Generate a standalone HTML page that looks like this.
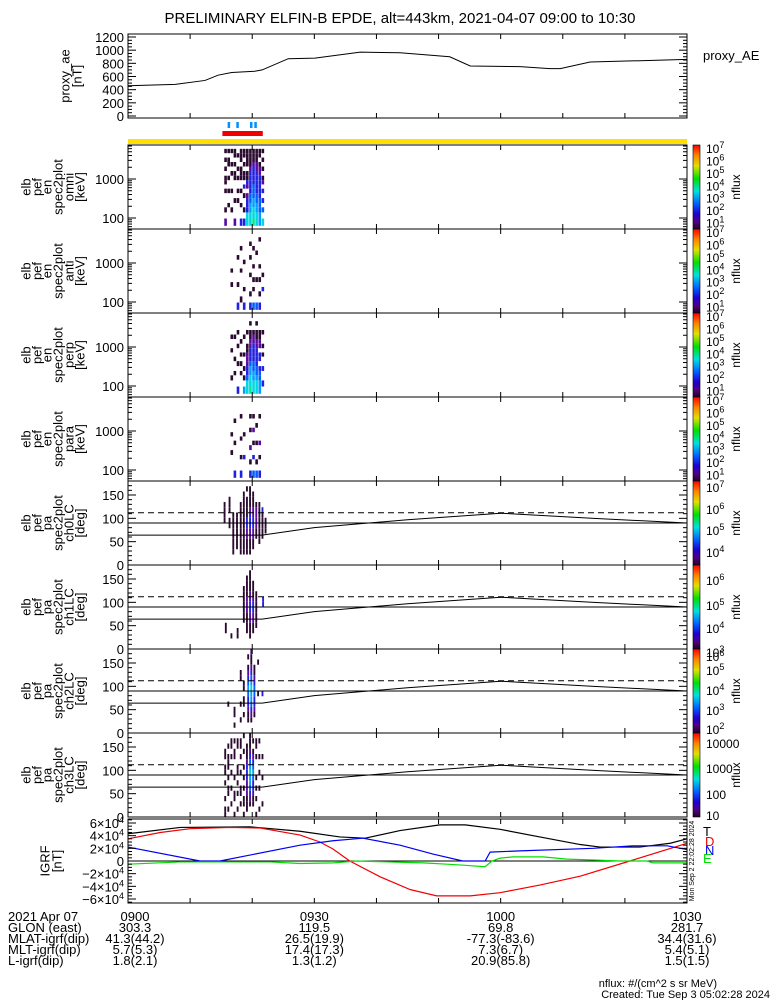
<!DOCTYPE html>
<html><head><meta charset="utf-8"><style>
html,body{margin:0;padding:0;background:#fff}
svg{display:block;font-family:"Liberation Sans",sans-serif}
</style></head><body>
<svg id="fig" width="775" height="1000" viewBox="0 0 775 1000" xmlns="http://www.w3.org/2000/svg">
<rect width="775" height="1000" fill="#fff"/>
<text x="400" y="23" font-size="15" text-anchor="middle">PRELIMINARY ELFIN-B EPDE, alt=443km, 2021-04-07 09:00 to 10:30</text>
</svg>
<script>
// ---------- DATA ----------
const aeTimes=[0,7.6,12.4,14.5,16.7,20.4,21.6,25.8,30.1,37.4,43.8,51.8,55.1,63.1,67.9,69.6,74.4,82.4,90];
const aeValues=[460,480,540,620,660,680,700,870,880,970,960,900,760,750,720,720,820,840,860];
const aeTicks=[0,200,400,600,800,1000,1200];

const blackT=[0,8.4,19.6,27.7,34.1,38.2,43.8,50.2,54.3,59.9,66.3,72.8,76.0,82.4,87.3,90];
const blackV=[43000,53000,54000,47000,38000,36000,48000,57000,57000,50000,38000,26000,22000,22000,28000,35000];
const redT=[0,5.2,10.0,16.4,21.3,27.7,30.9,33.0,35.7,40.6,45.4,49.7,55.1,59.9,66.3,72.8,80.8,90];
const redV=[35000,45000,51000,53000,52000,41000,30000,19000,0,-25000,-45000,-55000,-55000,-50000,-38000,-24000,0,28000];
const blueT=[0,11.6,14.8,27.7,33.0,37.8,43.8,49.1,53.9,57.5,58.3,63.1,74.9,81.3,86.8,90];
const blueV=[22000,0,0,25000,32000,36000,25000,11000,0,0,14000,16000,20000,24000,24000,18000];
const greenT=[0,8.4,22.9,27.7,33.0,36.9,43.8,47.5,51.4,54.6,57.5,58.6,59.9,62.0,66.8,70.7,75.5,79.2,83.6,84.5,90];
const greenV=[-5000,-1500,-1500,-4000,-3000,0,-2000,-3000,-5000,-7000,-9000,0,4500,6500,6500,3000,1500,0,0,-3000,-3000];
const igrfTicks=[-60000,-40000,-20000,0,20000,40000,60000];

const lcTimes=[0,21.6,30,45,60,75,90];
const lcValues=[64,64,80,97,111,100,90];
const paDashed=112, paSolid=90;

const energyEdges=[63,97,139,188,243,324,434,566,725,932,1215,1601,2090,2729,3547,4592,5934];
const omniTimes=[15.5,16.0,16.5,17.0,17.5,18.0,18.5,19.0,19.5,20.0,20.5,21.0,21.5];
const omniCells=["2.1...1.11.1.1.1","...1..1..1..11.1","..1...1...1.1..1","2...1....11.1.11","....1.1..1.1..1.","3..1..1..111.111","3.1..1.3.11.1.11","663332.2311.1111","6655443333321111","7665544433332111","6655443333322111","5544433333221.11","6.4.3.3.21.1.1.1"];
const antiTimes=[16.5,17.5,18.0,18.5,19.5,20.0,20.5,21.0,21.5];
const antiCells=["....1..1........","3...1.....1.....",".1.....1....1...","3..1.....1......","3.1...1...1..1..","4..1.1..1...1...","4....1.....1....","3.1..1..1.....1.","...3..1........."];
const perpTimes=[16.5,17.0,17.5,18.0,18.5,19.0,19.5,20.0,20.5,21.0,21.5];
const perpCells=["..1.....1..1....","...1..1....1....","3....1...1..1...","...1.1.1..1.....","5.1.1..1...1....","6643322211..1...","7665543332211.1.","6655443333221...","6654433332211.1.","55443.33.2211...",".3..3..1.1..1..."];
const paraTimes=[16.5,17.0,18.0,18.5,19.5,20.0,20.5,21.0];
const paraCells=["....1...1.......","3.....1....1....","3..1...1....1...","...3....1.......","3.1..2...1..1...","4..3..1..2..1...","4.1...1...1.....","3..1..2.....1..."];

const ch0Times=[15.4,16.2,16.8,17.4,18.0,18.5,19.0,19.5,20.0,20.5,21.0,21.5,22.0];
const ch0Cells=["........1111....",".......11.111...","..11111111......","...1111111......","..1111111111....","..111111111111..","..11122331111.1.","..1112233321111.","...11223322111..",".....1122221....","....11111111....",".....111113.....","......111......."];
const ch1Times=[15.6,16.5,17.5,18.5,19.0,19.5,20.0,20.5,21.6];
const ch1Cells=["...11...........","..1.............","..11............",".....1111111....","...11112221111..","..1112233221111.","...1122332111...","....1111111.....","........33......"];
const ch2Times=[16.0,17.0,18.0,18.5,19.2,19.7,20.2,20.8,21.5];
const ch2Cells=[".....1..........",".1.11...........","..1..1....11....","...1.11.11......","..11233454321.1.","..12345565432112","...1233443211...",".......1.....1..",".......3........"];
const ch3Times=[15.5,16.0,16.5,17.0,17.5,18.0,18.5,19.0,19.5,20.0,20.5,21.0,21.5];
const ch3Cells=["11.1..1.11.11...",".1..11.1.111.1..","..1..1..1..1.11.","1..11..1...11.1.",".1..1.1.11...11.","..1.11..1..1.11.","1.11.1.1.1..1..1",".1112223332111..","..12345565432111","..11233454321.1.","1..1.1.1...1.11.",".1...1..1..1..1.","..1....1...1...."];

const flagTimes=[16.2,17.6,19.8,20.5];
const flagStart=15.2, flagEnd=21.7;

// ---------- HELPERS ----------
const NS="http://www.w3.org/2000/svg";
const svg=document.getElementById('fig');
const X0=128,X1=687;
function xT(t){return X0+t*(X1-X0)/90;}
function mk(tag,attrs,parent){const e=document.createElementNS(NS,tag);for(const k in attrs)e.setAttribute(k,attrs[k]);(parent||svg).appendChild(e);return e;}
const pal={'1':'#2b0a2f','2':'#5a0aa0','3':'#2020e0','4':'#0060ff','5':'#00a0ff','6':'#00d8e0','7':'#00e890'};

function frame(top,h,name){
  const r=mk('rect',{x:X0,y:top,width:X1-X0,height:h,fill:'none',stroke:'#000','stroke-width':1});
  
  
  for(let t=10;t<90;t+=10){
    mk('line',{x1:xT(t),x2:xT(t),y1:top+h,y2:top+h-5,stroke:'#000'});
    mk('line',{x1:xT(t),x2:xT(t),y1:top,y2:top+5,stroke:'#000'});
  }
}
function ytick(y,len){
  mk('line',{x1:X0,x2:X0+len,y1:y,y2:y,stroke:'#000'});
  mk('line',{x1:X1,x2:X1-len,y1:y,y2:y,stroke:'#000'});
}
function ylab(y,txt,name){
  const t=mk('text',{x:124,y:y+5,'font-size':13,'text-anchor':'end'});
  t.textContent=txt;
  
  
  return t;
}
function sideLabel(lines,xs,cy,name){
  lines.forEach((s,i)=>{
    const t=mk('text',{x:xs[i],y:cy,'font-size':13,'text-anchor':'middle','dominant-baseline':'central',transform:`rotate(-90 ${xs[i]} ${cy})`});
    t.textContent=s;
    
    
  });
}
function colorbar(top,h,name){
  const g=mk('defs',{});
  const lg=mk('linearGradient',{id:'g'+top,x1:0,y1:0,x2:0,y2:1},g);
  [['0','#ff0000'],['0.12','#ff8000'],['0.25','#e0e000'],['0.4','#00e000'],['0.55','#00e0e0'],['0.7','#0060ff'],['0.82','#2000d0'],['0.92','#500080'],['1','#200020']].forEach(s=>mk('stop',{offset:s[0],'stop-color':s[1]},lg));
  const r=mk('rect',{x:693,y:top,width:7,height:h,fill:'url(#g'+top+')',stroke:'#000','stroke-width':0.6});
  
  
  const t=mk('text',{x:736,y:top+h/2,'font-size':12,'text-anchor':'middle','dominant-baseline':'central',transform:`rotate(-90 736 ${top+h/2})`});
  t.textContent='nflux';
  
  
}
function cbLabel(y,exp,plain,name){
  const t=mk('text',{x:706,y:y+5,'font-size':12});
  if(plain){t.textContent=plain;}
  else{t.textContent='10';const s=mk('tspan',{'font-size':9,dy:-5},t);s.textContent=exp;}
  
  
}

// ---------- PROXY AE ----------
const aeTop=34,aeH=84;
function yAE(v){return 116-v*(116-37)/1200;}
frame(aeTop,aeH,'proxy-ae-panel');
for(let v=0;v<=1200;v+=50) ytick(yAE(v),v%200===0?8:4);
aeTicks.forEach(v=>ylab(yAE(v),String(v),'ae-tick-'+v));
sideLabel(['proxy_ae','[nT]'],[65,77],76,'ae-axis-title');
{const p=mk('polyline',{points:aeTimes.map((t,i)=>xT(t)+','+yAE(aeValues[i])).join(' '),fill:'none',stroke:'#000','stroke-width':1});

}
{const t=mk('text',{x:703,y:60,'font-size':13});t.textContent='proxy_AE';

}

// ---------- FLAG BARS ----------
flagTimes.forEach((t,i)=>{
  const r=mk('rect',{x:xT(t)-1,y:122,width:2.5,height:6,fill:'#0090ff'});
  
  
});
{const r=mk('rect',{x:xT(flagStart),y:131,width:xT(flagEnd)-xT(flagStart),height:5,fill:'#f00000'});


const y=mk('rect',{x:X0,y:139,width:X1-X0,height:5,fill:'#ffe000'});

}

// ---------- ENERGY SPECTROGRAMS ----------
const specPanels=[[145,'omni',omniTimes,omniCells],[229,'anti',antiTimes,antiCells],[313,'perp',perpTimes,perpCells],[397,'para',paraTimes,paraCells]];
specPanels.forEach(([top,nm,times,cells])=>{
  const yE=e=>top+34-(Math.log10(e)-3)*39;
  times.forEach((t,i)=>{
    const s=cells[i];
    for(let b=0;b<s.length&&b<energyEdges.length;b++){
      const c=s[b]; if(c==='.')continue;
      const e0=energyEdges[b], e1=b+1<energyEdges.length?energyEdges[b+1]:7400;
      const r=mk('rect',{x:xT(t),y:yE(e1),width:xT(0.42)-X0,height:yE(e0)-yE(e1),fill:pal[c]});
      
      
    }
  });
  frame(top,84,nm+'-spectrogram');
  for(let d=10;d<=1000;d*=10)for(let m=1;m<10;m++){const e=d*m;const y=yE(e);if(y>top&&y<top+84)ytick(y,m===1?8:4);}
  ylab(yE(1000),'1000',nm+'-tick-1000');
  ylab(yE(100),'100',nm+'-tick-100');
  sideLabel(['elb','pef','en','spec2plot',nm,'[keV]'],[26,37,47,58,69,80],top+42,nm+'-axis-title');
  colorbar(top,84,nm+'-colorbar');
  const lo=7.25-84/13;
  for(let k=1;k<=7;k++){ if(k<lo-0.3)continue; cbLabel(top+(7.25-k)*12.4,String(k),null,nm+'-cb-label-'+k);}
});

// ---------- PITCH ANGLE SPECTROGRAMS ----------
const paPanels=[[481,'ch0LC',ch0Times,ch0Cells,[[487,'7'],[509,'6'],[530,'5'],[552,'4']]],
  [565,'ch1LC',ch1Times,ch1Cells,[[580,'6'],[605,'5'],[628,'4'],[652,'3']]],
  [649,'ch2LC',ch2Times,ch2Cells,[[656,'6'],[670,'5'],[690,'4'],[710,'3'],[729,'2']]],
  [733,'ch3LC',ch3Times,ch3Cells,[[743,'10000'],[768,'1000'],[794,'100'],[815,'10']]]];
paPanels.forEach(([top,nm,times,cells,cbl],pi)=>{
  const yP=p=>top+84-p*84/180;
  times.forEach((t,i)=>{
    const s=cells[i];
    for(let b=0;b<s.length&&b<16;b++){
      const c=s[b]; if(c==='.')continue;
      const r=mk('rect',{x:xT(t),y:yP((b+1)*11.25),width:xT(0.3)-X0,height:84/16,fill:pal[c]});
      
      
    }
  });
  const d=mk('line',{x1:X0,x2:X1,y1:yP(paDashed),y2:yP(paDashed),stroke:'#000','stroke-dasharray':'6,4'});
  
  
  const s=mk('line',{x1:X0,x2:X1,y1:yP(paSolid),y2:yP(paSolid),stroke:'#000'});
  
  
  const lc=mk('polyline',{points:lcTimes.map((t,i)=>xT(t)+','+yP(lcValues[i])).join(' '),fill:'none',stroke:'#000'});
  
  
  frame(top,84,nm+'-pa-spectrogram');
  for(let p=0;p<=180;p+=10) ytick(yP(p),p%50===0?8:4);
  [0,50,100,150].forEach(p=>ylab(yP(p),String(p),nm+'-tick-'+p));
  sideLabel(['elb','pef','pa','spec2plot',nm,'[deg]'],[26,37,47,58,69,80],top+42,nm+'-axis-title');
  colorbar(top,84,nm+'-colorbar');
  cbl.forEach(([y,e])=>{ if(pi===3) cbLabel(y,null,e,nm+'-cb-label-'+e); else cbLabel(y,e,null,nm+'-cb-label-'+e);});
});

// ---------- IGRF ----------
const igTop=819,igH=84;
function yIG(v){return 861-v*12.67/20000;}
{const z=mk('line',{x1:X0,x2:X1,y1:yIG(0),y2:yIG(0),stroke:'#000'});

}
[['black',blackT,blackV,'#000','igrf-total-line'],['red',redT,redV,'#f00000','igrf-d-line'],['blue',blueT,blueV,'#0000f0','igrf-n-line'],['green',greenT,greenV,'#00e000','igrf-e-line']].forEach(([c,T,V,col,nm])=>{
  const p=mk('polyline',{points:T.map((t,i)=>xT(t)+','+yIG(V[i])).join(' '),fill:'none',stroke:col,'stroke-width':1.2});
  
  
});
frame(igTop,igH,'igrf-panel');
for(let v=-65000;v<=65000;v+=5000) ytick(yIG(v),v%20000===0?8:4);
igrfTicks.forEach(v=>{
  const t=mk('text',{x:124,y:yIG(v)+5,'font-size':13,'text-anchor':'end'});
  if(v===0){t.textContent='0';}
  else{t.textContent=(v<0?'\u2212':'')+Math.abs(v/10000)+'\u00d710';const s=mk('tspan',{'font-size':9,dy:-5},t);s.textContent='4';}
  
  
});
sideLabel(['IGRF','[nT]'],[45,57],861,'igrf-axis-title');
[['T',703,836,'#000'],['D',705,846,'#f00000'],['N',705,855,'#0000f0'],['E',703,863,'#00e000']].forEach(([s,x,y,c])=>{
  const t=mk('text',{x:x,y:y,'font-size':13,fill:c});t.textContent=s;
  
  
});
{const t=mk('text',{x:0,y:0,'font-size':7,'text-anchor':'middle',transform:'translate(694 861) rotate(-90)'});
t.textContent='Mon Sep  2 22:02:28 2024';

}

// ---------- ORBIT TABLE ----------
const rowLabels=['2021 Apr 07','GLON (east)','MLAT-igrf(dip)','MLT-igrf(dip)','L-igrf(dip)'];
const colTimes=[0,30,60,90];
const colValues=[['0900','303.3','41.3(44.2)','5.7(5.3)','1.8(2.1)'],['0930','119.5','26.5(19.9)','17.4(17.3)','1.3(1.2)'],['1000','69.8','-77.3(-83.6)','7.3(6.7)','20.9(85.8)'],['1030','281.7','34.4(31.6)','5.4(5.1)','1.5(1.5)']];
const rowY=[921,932,943,954,965];
rowLabels.forEach((s,i)=>{const t=mk('text',{x:8,y:rowY[i],'font-size':13});t.textContent=s;

});
colTimes.forEach((tt,j)=>colValues[j].forEach((s,i)=>{
  const t=mk('text',{x:xT(tt)+(j===0?7:0),y:rowY[i],'font-size':13,'text-anchor':'middle'});t.textContent=s;
  
  
}));
{const t=mk('text',{x:717,y:987,'font-size':11,'text-anchor':'end'});t.textContent='nflux: #/(cm^2 s sr MeV)';


const c=mk('text',{x:770,y:998,'font-size':11,'text-anchor':'end'});c.textContent='Created: Tue Sep  3 05:02:28 2024';

}
</script>
</body></html>
